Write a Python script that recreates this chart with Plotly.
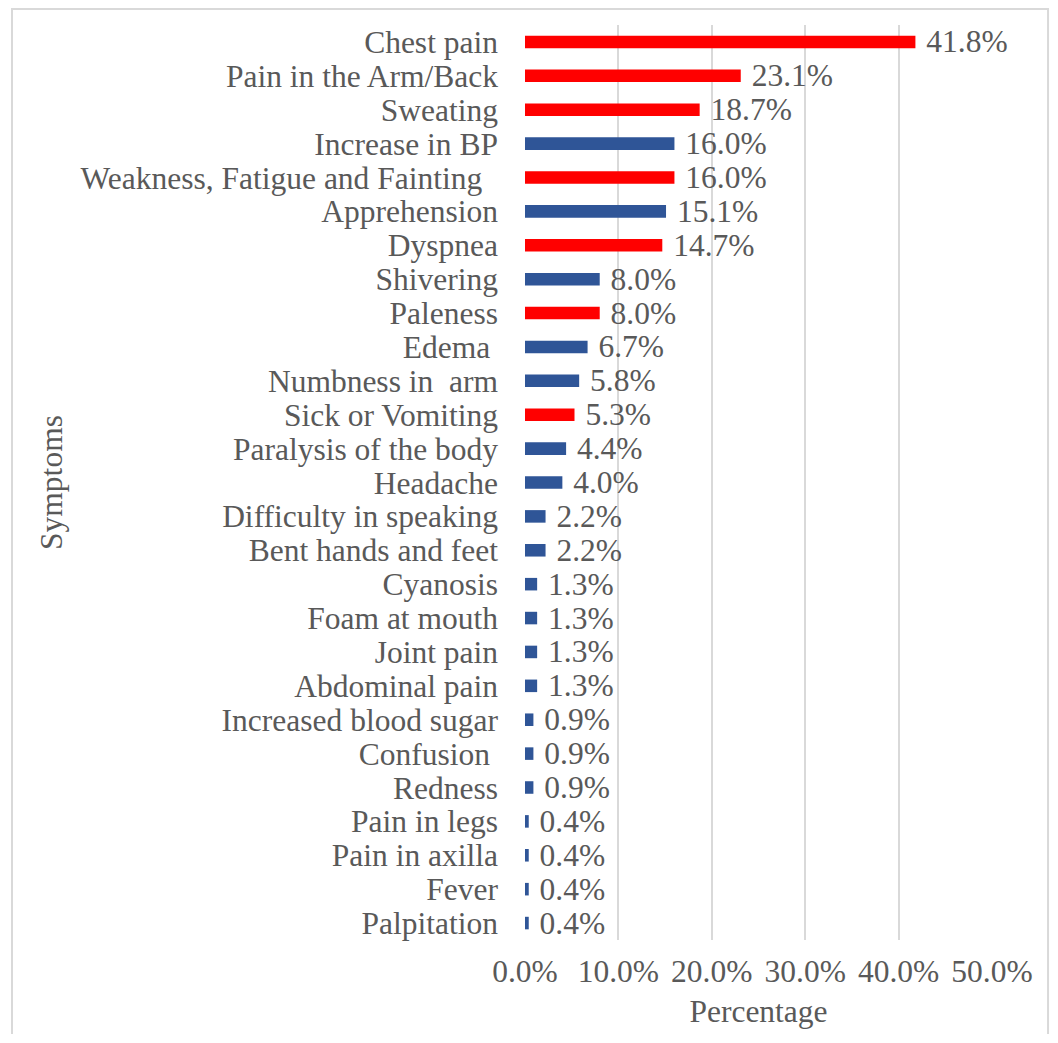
import plotly.graph_objects as go

symptoms = [
    "Chest pain", "Pain in the Arm/Back", "Sweating", "Increase in BP",
    "Weakness, Fatigue and Fainting\u00a0\u00a0", "Apprehension", "Dyspnea", "Shivering",
    "Paleness", "Edema\u00a0", "Numbness in\u00a0 arm", "Sick or Vomiting",
    "Paralysis of the body", "Headache", "Difficulty in speaking", "Bent hands and feet",
    "Cyanosis", "Foam at mouth", "Joint pain", "Abdominal pain",
    "Increased blood sugar", "Confusion\u00a0", "Redness", "Pain in legs",
    "Pain in axilla", "Fever", "Palpitation",
]
percentages = [
    41.8, 23.1, 18.7, 16.0, 16.0, 15.1, 14.7, 8.0, 8.0, 6.7, 5.8, 5.3, 4.4, 4.0,
    2.2, 2.2, 1.3, 1.3, 1.3, 1.3, 0.9, 0.9, 0.9, 0.4, 0.4, 0.4, 0.4,
]
highlight = [
    1, 1, 1, 0, 1, 0, 1, 0, 1, 0, 0, 1, 0, 0,
    0, 0, 0, 0, 0, 0, 0, 0, 0, 0, 0, 0, 0,
]
x_ticks = [0, 10, 20, 30, 40, 50]
x_tick_labels = ["0.0%", "10.0%", "20.0%", "30.0%", "40.0%", "50.0%"]

RED = "#FF0000"
BLUE = "#2F5597"
TEXT = "#595959"
FONT = "Liberation Serif"
FS = 31.5

colors = [RED if h else BLUE for h in highlight]

fig = go.Figure(go.Bar(
    x=percentages,
    y=symptoms,
    orientation="h",
    marker=dict(color=colors, line=dict(width=0)),
    width=0.37,
    text=[f"\u00a0{v:.1f}%" for v in percentages],
    textposition="outside",
    textfont=dict(family=FONT, size=FS, color=TEXT),
    constraintext="none",
    cliponaxis=False,
    hoverinfo="skip",
))

# outer chart-area frame (open at the bottom, which lies beyond the picture)
bx0, bx1, by0, by1 = -1.0985, 1.12, -0.1027, 1.0175
fig.update_layout(
    width=1042, height=1027,
    margin=dict(l=517, r=58, t=17, b=95),
    paper_bgcolor="white",
    plot_bgcolor="white",
    showlegend=False,
    font=dict(family=FONT, size=FS, color=TEXT),
    shapes=[dict(
        type="path", xref="paper", yref="paper",
        path=f"M {bx0},{by0} L {bx0},{by1} L {bx1},{by1} L {bx1},{by0}",
        line=dict(color="#D9D9D9", width=2),
        layer="below",
    )],
)

fig.update_xaxes(
    range=[0, 50],
    tickvals=x_ticks,
    ticktext=x_tick_labels,
    showgrid=True, gridcolor="#D9D9D9", gridwidth=1.5,
    zeroline=False, showline=False,
    ticklabelstandoff=9,
    tickfont=dict(family=FONT, size=FS, color=TEXT),
    title=dict(text="Percentage", standoff=12,
               font=dict(family=FONT, size=FS, color=TEXT)),
    fixedrange=True,
)
fig.update_yaxes(
    autorange="reversed",
    tickmode="array",
    tickvals=symptoms,
    ticktext=symptoms,
    showgrid=False, zeroline=False, showline=False,
    ticklabelstandoff=26,
    tickfont=dict(family=FONT, size=FS, color=TEXT),
    title=dict(text="Symptoms", standoff=8,
               font=dict(family=FONT, size=FS, color=TEXT)),
    fixedrange=True,
)

fig.write_html("out.html")
